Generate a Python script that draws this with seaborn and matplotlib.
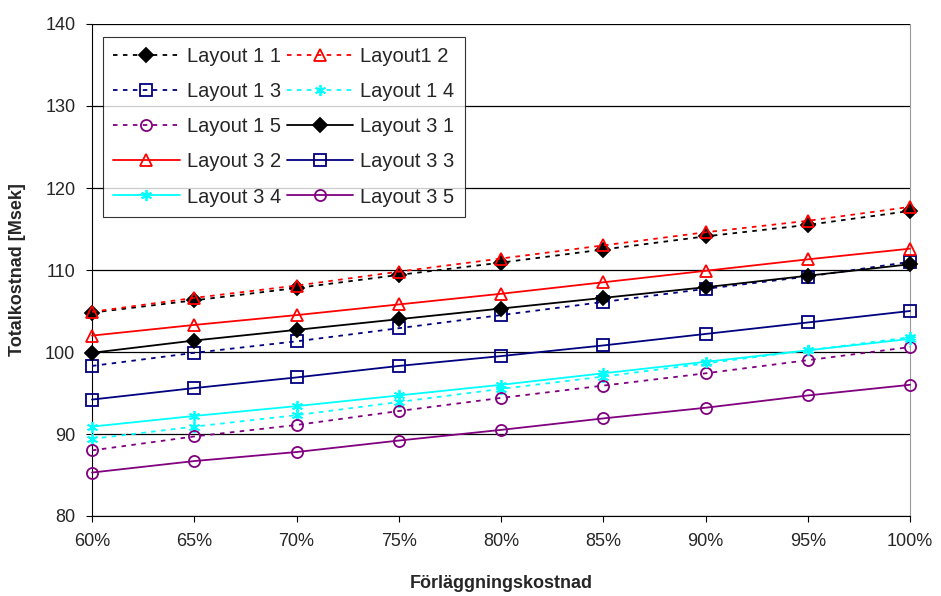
import matplotlib
matplotlib.use("Agg")
import matplotlib.pyplot as plt
import seaborn as sns
import pandas as pd
from matplotlib.ticker import FuncFormatter

# Förläggningskostnad (percent) on the x axis
forlaggning = [60, 65, 70, 75, 80, 85, 90, 95, 100]

# Totalkostnad [Msek] per layout variant
layout_1_1 = [104.8, 106.3, 107.8, 109.4, 110.9, 112.5, 114.1, 115.5, 117.2]
layout1_2 = [104.9, 106.6, 108.1, 109.8, 111.4, 113.0, 114.6, 116.0, 117.7]
layout_1_3 = [98.3, 99.9, 101.3, 102.9, 104.5, 106.1, 107.7, 109.2, 111.0]
layout_1_4 = [89.4, 90.9, 92.3, 93.9, 95.5, 97.0, 98.6, 100.2, 101.8]
layout_1_5 = [88.0, 89.7, 91.1, 92.8, 94.4, 95.9, 97.4, 99.0, 100.6]
layout_3_1 = [99.9, 101.4, 102.7, 104.0, 105.3, 106.6, 107.9, 109.3, 110.7]
layout_3_2 = [102.0, 103.3, 104.5, 105.8, 107.1, 108.5, 109.9, 111.3, 112.6]
layout_3_3 = [94.2, 95.6, 96.9, 98.3, 99.5, 100.8, 102.2, 103.6, 105.0]
layout_3_4 = [90.9, 92.2, 93.4, 94.7, 96.0, 97.4, 98.8, 100.2, 101.6]
layout_3_5 = [85.3, 86.7, 87.8, 89.2, 90.5, 91.9, 93.2, 94.7, 96.0]

labels = ["Layout 1 1", "Layout1 2", "Layout 1 3", "Layout 1 4", "Layout 1 5",
          "Layout 3 1", "Layout 3 2", "Layout 3 3", "Layout 3 4", "Layout 3 5"]
series = [layout_1_1, layout1_2, layout_1_3, layout_1_4, layout_1_5,
          layout_3_1, layout_3_2, layout_3_3, layout_3_4, layout_3_5]

colors = ["black", "#FF0000", "#000080", "#00FFFF", "#800080"] * 2
markers = ["D", "^", "s", (6, 2, 0), "o"] * 2
filled = [True, False, False, True, False] * 2
dashed = [True] * 5 + [False] * 5

sns.set_style("white")
plt.rcParams["font.family"] = ["Liberation Sans", "DejaVu Sans"]

fig = plt.figure(figsize=(9.41, 5.96), dpi=100)
ax = fig.add_axes([92 / 941, 1 - 516 / 596, (910 - 92) / 941, (516 - 24) / 596])

handles = {}
for lab, vals, col, mk, fl, dsh in zip(labels, series, colors, markers, filled, dashed):
    df = pd.DataFrame({"x": forlaggning, "y": vals})
    sns.lineplot(data=df, x="x", y="y", ax=ax, color=col, marker=mk,
                 markersize=8 if mk != "D" else 7,
                 markerfacecolor=(col if fl else "none"), markeredgecolor=col,
                 markeredgewidth=1.3, linewidth=1.3,
                 linestyle=(0, (2.5, 3)) if dsh else "-",
                 clip_on=False, zorder=3)
    handles[lab] = ax.lines[-1]

ax.set_xlim(60, 100)
ax.set_ylim(80, 140)
ax.set_xticks(forlaggning)
ax.xaxis.set_major_formatter(FuncFormatter(lambda v, p: f"{int(v)}%"))
ax.set_yticks(range(80, 141, 10))
ax.yaxis.grid(True, color="black", linewidth=0.9)
ax.xaxis.grid(False)
ax.set_axisbelow(True)

ax.spines["top"].set_visible(False)
ax.spines["right"].set_color("#999999")
ax.spines["left"].set_color("black")
ax.spines["bottom"].set_color("black")
ax.tick_params(axis="both", direction="out", length=4, width=0.8, color="black",
               labelsize=13, bottom=True, left=True, pad=8)

ax.set_xlabel("Förläggningskostnad", fontsize=13, fontweight="bold", labelpad=18)
ax.set_ylabel("Totalkostnad [Msek]", fontsize=13, fontweight="bold", labelpad=14)

# legend columns filled so rows read pairwise
order = ["Layout 1 1", "Layout 1 3", "Layout 1 5", "Layout 3 2", "Layout 3 4",
         "Layout1 2", "Layout 1 4", "Layout 3 1", "Layout 3 3", "Layout 3 5"]
leg = ax.legend([handles[k] for k in order], order, ncol=2, loc="upper left",
                bbox_to_anchor=((103 - 92) / 818, 1 - (37 - 24) / 492),
                bbox_transform=ax.transAxes, fontsize=14.5, frameon=True,
                fancybox=False, edgecolor="black", handlelength=3.3,
                columnspacing=0.3, handletextpad=0.35, labelspacing=0.8,
                borderpad=0.5, borderaxespad=0)
leg.get_frame().set_linewidth(0.8)
leg.set_zorder(5)

fig.savefig("out.png", dpi=100, facecolor="white")
